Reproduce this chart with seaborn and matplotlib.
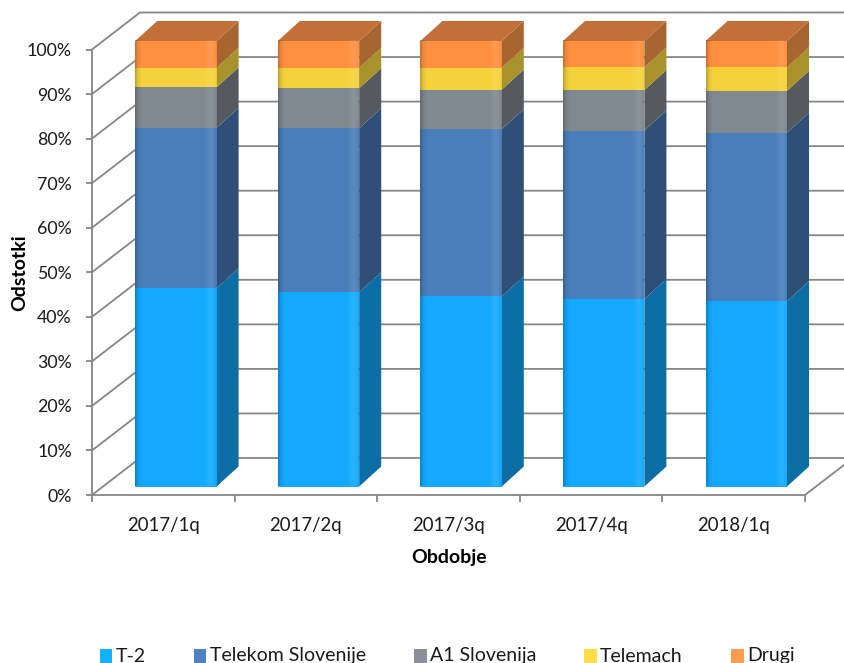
import numpy as np
import matplotlib
matplotlib.use("Agg")
import matplotlib.pyplot as plt
from matplotlib.patches import Polygon, Patch
from matplotlib.transforms import Affine2D
import seaborn as sns

categories = ["2017/1q", "2017/2q", "2017/3q", "2017/4q", "2018/1q"]
series_names = ["T-2", "Telekom Slovenije", "A1 Slovenija", "Telemach", "Drugi"]
t2 = [44.5, 43.6, 42.7, 42.1, 41.6]
telekom = [36.0, 36.8, 37.5, 37.8, 37.8]
a1 = [9.1, 9.0, 8.9, 9.1, 9.4]
telemach = [4.4, 4.6, 4.9, 5.1, 5.3]
drugi = [6.0, 6.0, 6.0, 5.9, 5.9]
series_values = [t2, telekom, a1, telemach, drugi]
y_ticks = list(range(0, 101, 10))

front_colors = ["#12A9FF", "#4A7EBB", "#808890", "#F5D23C", "#FF9040"]
legend_colors = ["#12B2FF", "#4F81C4", "#8A8F99", "#FFDD44", "#FF9B4D"]
side_colors = ["#0D6EA6", "#2D4F78", "#565A60", "#A8922C", "#A86530"]
top_color = "#C07038"
line_color = "#868686"
text_color = "#1A1A1A"

sns.set_theme(style="white")
plt.rcParams["font.family"] = ["Lato", "DejaVu Sans"]

W, H = 844, 663
fig = plt.figure(figsize=(W / 100, H / 100), dpi=100)
ax = fig.add_axes([92 / W, (H - 495) / H, 713 / W, 445.5 / H])

px_x = 5 / 713
px_y = 100 / 445.5
wall_dx, wall_dy = 48 * px_x, 37 * px_y
side_dx, side_dy = 22 * px_x, 20 * px_y

x_pos = np.arange(len(categories))
bottoms = np.zeros(len(categories))
segments = []
for name, vals, col in zip(series_names, series_values, front_colors):
    before = len(ax.patches)
    sns.barplot(x=categories, y=vals, bottom=bottoms, color=col, saturation=1,
                width=0.571, label=name, ax=ax, legend=False, zorder=4,
                linewidth=0)
    segments.append(list(ax.patches[before:]))
    bottoms = bottoms + np.array(vals)

ax.set_xlim(-0.5, 4.5)
ax.set_ylim(0, 100)
shift = Affine2D().translate(12.6, 8.5)
final_tf = ax.transData + shift

# side and top faces, derived from the bars themselves
for bars, side in zip(segments, side_colors):
    for b in bars:
        b.set_transform(final_tf)
        b.set_clip_on(False)
        x1 = b.get_x() + b.get_width()
        y0 = b.get_y()
        y1 = y0 + b.get_height()
        ax.add_patch(Polygon([(x1, y0), (x1 + side_dx, y0 + side_dy),
                              (x1 + side_dx, y1 + side_dy), (x1, y1)],
                             closed=True, fc=side, ec="none", zorder=3,
                             transform=final_tf, clip_on=False))
for b in segments[-1]:
    x0 = b.get_x()
    x1 = x0 + b.get_width()
    y1 = b.get_y() + b.get_height()
    ax.add_patch(Polygon([(x0, y1), (x1, y1), (x1 + side_dx, y1 + side_dy),
                          (x0 + side_dx, y1 + side_dy)],
                         closed=True, fc=top_color, ec="none", zorder=3,
                         transform=final_tf, clip_on=False))

# glossy band across each front face
profile = np.interp(np.linspace(0, 1, 81),
                    [0, 0.03, 0.08, 0.84, 0.93, 0.98, 1],
                    [-0.22, -0.08, 0, 0, 0.10, 0.04, -0.05])
rgba = np.zeros((1, 81, 4))
rgba[0, :, :3] = (profile > 0)[:, None].astype(float)
rgba[0, :, 3] = np.abs(profile)
for b in segments[0]:
    x0 = b.get_x()
    x1 = x0 + b.get_width()
    ax.imshow(rgba, extent=(x0, x1, 0, 100), aspect="auto", zorder=5,
              transform=final_tf, clip_on=False, interpolation="bilinear")
ax.set_xlim(-0.5, 4.5)
ax.set_ylim(0, 100)

# wall and floor lines
lw = 1.3
right = len(categories) - 0.5
for v in y_ticks:
    ax.plot([-0.5, -0.5 + wall_dx, right + wall_dx], [v, v + wall_dy, v + wall_dy],
            color=line_color, lw=lw, clip_on=False, zorder=1, solid_joinstyle="miter")
ax.plot([right, right + wall_dx], [0, wall_dy], color=line_color, lw=lw,
        clip_on=False, zorder=1)

for s in ["top", "right"]:
    ax.spines[s].set_visible(False)
for s in ["left", "bottom"]:
    ax.spines[s].set_color(line_color)
    ax.spines[s].set_linewidth(lw)

ax.set_yticks(y_ticks, labels=[f"{v}%" for v in y_ticks])
ax.set_xticks(np.arange(-0.5, 5, 1), labels=[""] * 6)
ax.set_xticks(x_pos, labels=categories, minor=True)
ax.tick_params(axis="y", which="major", length=4.5, width=lw, color=line_color,
               labelsize=12.8, pad=10, labelcolor=text_color, left=True)
ax.tick_params(axis="x", which="major", length=5, width=lw, color=line_color, bottom=True)
ax.tick_params(axis="x", which="minor", length=0, labelsize=13.4, pad=16, labelcolor=text_color)

fig.text(20 / W, 1 - 272.5 / H, "Odstotki", rotation=90, ha="center", va="center",
         fontsize=14, fontweight="bold", color="black")
fig.text(449 / W, 1 - 557 / H, "Obdobje", ha="center", va="center",
         fontsize=14, fontweight="bold", color="black")

handles = [Patch(facecolor=c, edgecolor="none", label=n)
           for c, n in zip(legend_colors, series_names)]
leg = fig.legend(handles=handles, ncol=5, frameon=False, loc="center",
                 bbox_to_anchor=(447 / W, 1 - 655 / H), fontsize=14,
                 handlelength=0.66, handleheight=0.66, handletextpad=0.17,
                 columnspacing=2.46, borderpad=0, borderaxespad=0)

# Put all legend entries on one baseline: the packer offsets them by descent.
fig.canvas.draw()
renderer = fig.canvas.get_renderer()
baseline_target = H - 661.5
square_bottom_target = H - 662.5
for t, p in zip(leg.get_texts(), leg.get_patches()):
    t.set_color(text_color)
    fp = t.get_fontproperties()
    _, _, d = renderer.get_text_width_height_descent(t.get_text(), fp, False)
    _, _, lp_d = renderer.get_text_width_height_descent("lp", fp, False)
    base = t.get_window_extent(renderer).y0 + max(d, lp_d)
    t.set_y(baseline_target - base)
    dy_px = square_bottom_target - p.get_window_extent(renderer).y0
    p.set_y(p.get_y() + dy_px * 72 / fig.dpi)

fig.savefig("out.png", dpi=100, facecolor="white")
